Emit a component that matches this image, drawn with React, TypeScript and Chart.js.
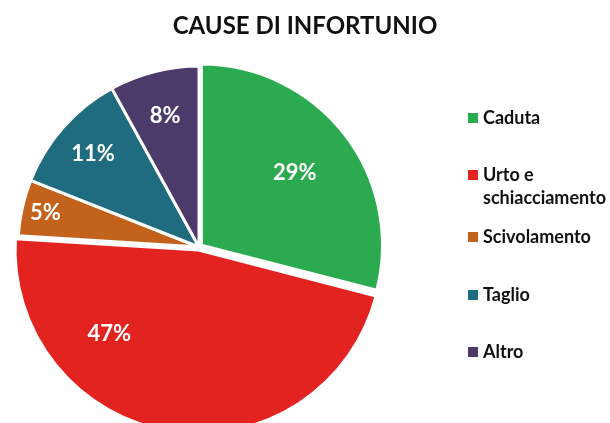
import React, { useEffect, useRef } from "react";
import { Chart, registerables } from "chart.js";

Chart.register(...registerables);

const title = "CAUSE DI INFORTUNIO";
const categories = ["Caduta", "Urto e schiacciamento", "Scivolamento", "Taglio", "Altro"];
const values = [29, 47, 5, 11, 8];
const percentLabels = ["29%", "47%", "5%", "11%", "8%"];
const colors = ["#2BAA50", "#E3231F", "#C2621B", "#1F6C80", "#4C3A6B"];

// styling: explode offsets and label placement (fraction of radius, angle shift in degrees)
const sliceOffsets = [12, 12, 0, 0, 0];
const labelRadiusFrac = [0.67, 0.69, 0.87, 0.78, 0.75];
const labelAngleShift = [0, 37, 0, 0, 0];
const legendTops = [106, 163, 225, 283, 340];

const pctPlugin = {
  id: "pctLabels",
  afterDatasetsDraw(chart: any) {
    const ctx = chart.ctx;
    const meta = chart.getDatasetMeta(0);
    ctx.save();
    ctx.fillStyle = "#ffffff";
    ctx.font = "700 22px Lato";
    ctx.textAlign = "center";
    ctx.textBaseline = "middle";
    meta.data.forEach((arc: any, i: number) => {
      const p = arc.getProps(["x", "y", "startAngle", "endAngle", "outerRadius"], true);
      const mid = (p.startAngle + p.endAngle) / 2 + (labelAngleShift[i] * Math.PI) / 180;
      const r = p.outerRadius * labelRadiusFrac[i];
      ctx.fillText(percentLabels[i], p.x + Math.cos(mid) * r, p.y + Math.sin(mid) * r);
    });
    ctx.restore();
  },
};

export default function App() {
  const ref = useRef<HTMLCanvasElement | null>(null);
  useEffect(() => {
    if (!ref.current) return;
    const chart = new Chart(ref.current, {
      type: "pie",
      data: {
        labels: categories,
        datasets: [
          {
            data: values,
            backgroundColor: colors,
            borderColor: "#ffffff",
            borderWidth: 3,
            offset: sliceOffsets,
          },
        ],
      },
      options: {
        responsive: false,
        animation: false,
        devicePixelRatio: 1,
        events: [],
        layout: { padding: { left: 10.5, right: 222.5, top: 58.5, bottom: 44.5 } },
        plugins: {
          legend: { display: false },
          title: { display: false },
          tooltip: { enabled: false },
        },
      } as any,
      plugins: [pctPlugin],
    });
    return () => chart.destroy();
  }, []);

  return (
    <div
      style={{
        position: "fixed",
        left: 0,
        top: 0,
        width: 610,
        height: 423,
        overflow: "hidden",
        background: "#ffffff",
        fontFamily: "Lato, sans-serif",
      }}
    >
      <canvas ref={ref} width={610} height={480} style={{ position: "absolute", left: 0, top: 0 }} />
      <div
        style={{
          position: "absolute",
          left: 0,
          width: 610,
          top: 11,
          textAlign: "center",
          fontWeight: 700,
          fontSize: 24,
          lineHeight: "28px",
          color: "#111",
        }}
      >
        {title}
      </div>
      {categories.map((c, i) => (
        <div
          key={c}
          style={{
            position: "absolute",
            left: 468,
            top: legendTops[i],
            display: "flex",
            alignItems: "flex-start",
            width: 150,
          }}
        >
          <span
            style={{
              display: "inline-block",
              width: 10,
              height: 10,
              marginTop: 7,
              background: colors[i],
              flex: "0 0 auto",
            }}
          />
          <span
            style={{
              marginLeft: 5,
              fontWeight: 700,
              fontSize: 18,
              lineHeight: "23px",
              color: "#111",
              width: 135,
            }}
          >
            {c}
          </span>
        </div>
      ))}
    </div>
  );
}
